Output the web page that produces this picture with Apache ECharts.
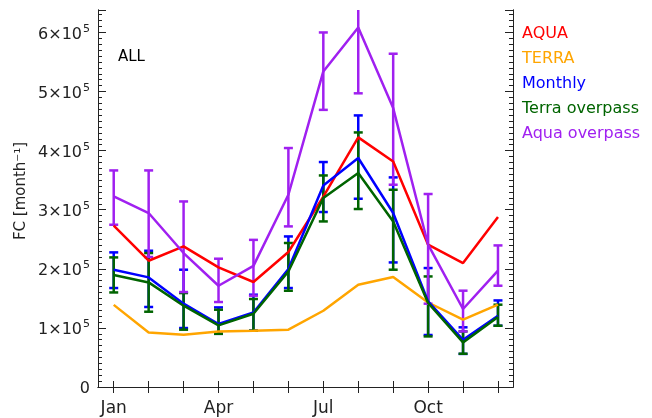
<!DOCTYPE html>
<html>
<head>
<meta charset="utf-8">
<title>FC by month</title>
<script src="https://cdn.jsdelivr.net/npm/echarts@6/dist/echarts.min.js"></script>
<style>
  html, body { margin: 0; padding: 0; background: #fff; }
  #chart { width: 652px; height: 418px; }
</style>
</head>
<body>
<div id="chart"></div>
<script>
// Months on the x axis (1 = Jan ... 12 = Dec)
const months = [1, 2, 3, 4, 5, 6, 7, 8, 9, 10, 11, 12];
const monthNames = ['Jan', 'Feb', 'Mar', 'Apr', 'May', 'Jun', 'Jul', 'Aug', 'Sep', 'Oct', 'Nov', 'Dec'];
const labelledMonths = [1, 4, 7, 10];
const yTickValues = [0, 100000, 200000, 300000, 400000, 500000, 600000];

// Monthly FC values
const aqua = [273000, 213700, 237900, 202500, 177700, 228400, 322000, 422400, 381700, 240800, 209800, 287600];
const terra = [139000, 92400, 88500, 94000, 95300, 97000, 129000, 173100, 186100, 143000, 113900, 139300];

const monthly = [198500, 185500, 141000, 106600, 126200, 199700, 341100, 387500, 294400, 144800, 80000, 120600];
const monthlyLow = [167500, 135400, 99800, 90000, 95300, 167500, 296100, 318600, 210800, 88000, 56000, 103700];
const monthlyHigh = [227800, 230600, 198500, 134700, 156200, 254800, 380700, 459600, 354700, 201300, 101000, 146500];

const terraOver = [189500, 177000, 137600, 104200, 124000, 195600, 319800, 362100, 280200, 142100, 75500, 118400];
const terraOverLow = [160000, 127400, 97000, 90000, 95300, 162900, 280200, 301200, 198500, 85600, 56300, 103700];
const terraOverHigh = [219300, 226700, 159000, 130800, 148900, 243700, 358000, 430800, 333800, 187100, 94000, 139300];

const aquaOver = [322500, 294400, 226700, 171400, 205000, 325400, 534000, 608500, 472000, 240800, 132000, 196800];
const aquaOverLow = [274600, 220000, 160700, 143800, 154500, 271800, 469000, 497000, 342300, 141000, 94000, 171400];
const aquaOverHigh = [366500, 366500, 314000, 217100, 249000, 404400, 600000, 720000, 564000, 326600, 163000, 239600];

const colors = {
  aqua: '#ff0000',
  terra: '#ffa500',
  monthly: '#0000ff',
  terraOver: '#006400',
  aquaOver: '#a020f0'
};

const FONT = 'DejaVu Sans';
const INK = '#222';
const LINE_W = 2.5;

const pairs = (vals) => months.map((m, i) => [m, vals[i]]);
const ranges = (lo, hi) => months.map((m, i) => [m, lo[i], hi[i]]);

// Error bar: vertical whisker with caps, clipped to the plot frame
function errorBar(color) {
  return function (params, api) {
    const cs = params.coordSys;
    const top = api.coord([api.value(0), api.value(2)]);
    const bot = api.coord([api.value(0), api.value(1)]);
    const x = top[0];
    const yTop = Math.max(top[1], cs.y);
    const yBot = Math.min(bot[1], cs.y + cs.height);
    const half = 4.5;
    const style = { stroke: color, lineWidth: LINE_W, fill: null };
    const children = [
      { type: 'line', shape: { x1: x, y1: yTop, x2: x, y2: yBot }, style: style }
    ];
    if (top[1] >= cs.y) {
      children.push({ type: 'line', shape: { x1: x - half, y1: yTop, x2: x + half, y2: yTop }, style: style });
    }
    if (bot[1] <= cs.y + cs.height) {
      children.push({ type: 'line', shape: { x1: x - half, y1: yBot, x2: x + half, y2: yBot }, style: style });
    }
    return { type: 'group', children: children };
  };
}

function lineSeries(name, vals, color) {
  return {
    name: name,
    type: 'line',
    data: pairs(vals),
    symbol: 'none',
    lineStyle: { color: color, width: LINE_W },
    itemStyle: { color: color },
    xAxisIndex: 0,
    yAxisIndex: 0,
    animation: false
  };
}

function errSeries(name, lo, hi, color) {
  return {
    name: name,
    type: 'custom',
    data: ranges(lo, hi),
    renderItem: errorBar(color),
    encode: { x: 0, y: [1, 2] },
    xAxisIndex: 0,
    yAxisIndex: 0,
    animation: false
  };
}

const axisLineStyle = { lineStyle: { color: INK, width: 1 } };
const X_MIN = 0.55, X_MAX = 12.43;
const Y_MIN = 0, Y_MAX = 638000;

function xAxisDef(position, withLabels) {
  return {
    type: 'value',
    position: position,
    min: X_MIN,
    max: X_MAX,
    axisLine: axisLineStyle,
    axisTick: {
      show: true, inside: true, length: 6,
      customValues: months,
      lineStyle: { color: INK, width: 1 }
    },
    axisLabel: withLabels ? {
      show: true,
      customValues: labelledMonths,
      formatter: (v) => monthNames[Math.round(v) - 1],
      color: INK,
      fontFamily: FONT,
      fontSize: 17,
      margin: 13
    } : { show: false },
    splitLine: { show: false }
  };
}

function yAxisDef(position, interval, tickLen, withLabels) {
  return {
    type: 'value',
    position: position,
    min: Y_MIN,
    max: Y_MAX,
    interval: interval,
    axisLine: axisLineStyle,
    axisTick: {
      show: true, inside: true, length: tickLen,
      lineStyle: { color: INK, width: 1 }
    },
    axisLabel: withLabels ? {
      show: true,
      customValues: yTickValues,
      formatter: (v) => (v === 0 ? '{b|0}' : '{b|' + (v / 100000) + '×10}{s|5}'),
      color: INK,
      fontFamily: FONT,
      fontSize: 16,
      margin: 8,
      rich: {
        b: { fontFamily: FONT, fontSize: 16, color: INK, lineHeight: 20, verticalAlign: 'bottom' },
        s: { fontFamily: FONT, fontSize: 11, color: INK, lineHeight: 20, verticalAlign: 'bottom', padding: [0, 0, 8, 1] }
      }
    } : { show: false },
    splitLine: { show: false }
  };
}

const chart = echarts.init(document.getElementById('chart'), null, { renderer: 'canvas' });

const option = {
  backgroundColor: '#fff',
  animation: false,
  grid: { left: 98, top: 10, width: 415, height: 377, containLabel: false },
  xAxis: [
    xAxisDef('bottom', true),
    xAxisDef('top', false)
  ],
  yAxis: [
    yAxisDef('left', 100000, 8, true),
    yAxisDef('left', 10000, 4, false),
    yAxisDef('right', 100000, 8, false),
    yAxisDef('right', 10000, 4, false)
  ],
  series: [
    lineSeries('AQUA', aqua, colors.aqua),
    lineSeries('TERRA', terra, colors.terra),
    lineSeries('Monthly', monthly, colors.monthly),
    errSeries('Monthly range', monthlyLow, monthlyHigh, colors.monthly),
    lineSeries('Terra overpass', terraOver, colors.terraOver),
    errSeries('Terra overpass range', terraOverLow, terraOverHigh, colors.terraOver),
    lineSeries('Aqua overpass', aquaOver, colors.aquaOver),
    errSeries('Aqua overpass range', aquaOverLow, aquaOverHigh, colors.aquaOver)
  ],
  graphic: [
    {
      type: 'text', left: 118, top: 50,
      style: { text: 'ALL', fill: '#000', font: '15px "DejaVu Sans"' }
    },
    {
      type: 'text', x: 21, y: 191, rotation: Math.PI / 2,
      style: {
        text: 'FC [month⁻¹]', fill: INK, font: '15px "DejaVu Sans"',
        align: 'center', verticalAlign: 'middle'
      }
    },
    { type: 'text', left: 522, top: 26, style: { text: 'AQUA', fill: colors.aqua, font: '16px "DejaVu Sans"' } },
    { type: 'text', left: 522, top: 51, style: { text: 'TERRA', fill: colors.terra, font: '16px "DejaVu Sans"' } },
    { type: 'text', left: 522, top: 76, style: { text: 'Monthly', fill: colors.monthly, font: '16px "DejaVu Sans"' } },
    { type: 'text', left: 522, top: 101, style: { text: 'Terra overpass', fill: colors.terraOver, font: '16px "DejaVu Sans"' } },
    { type: 'text', left: 522, top: 126, style: { text: 'Aqua overpass', fill: colors.aquaOver, font: '16px "DejaVu Sans"' } }
  ]
};

chart.setOption(option);
</script>
</body>
</html>
